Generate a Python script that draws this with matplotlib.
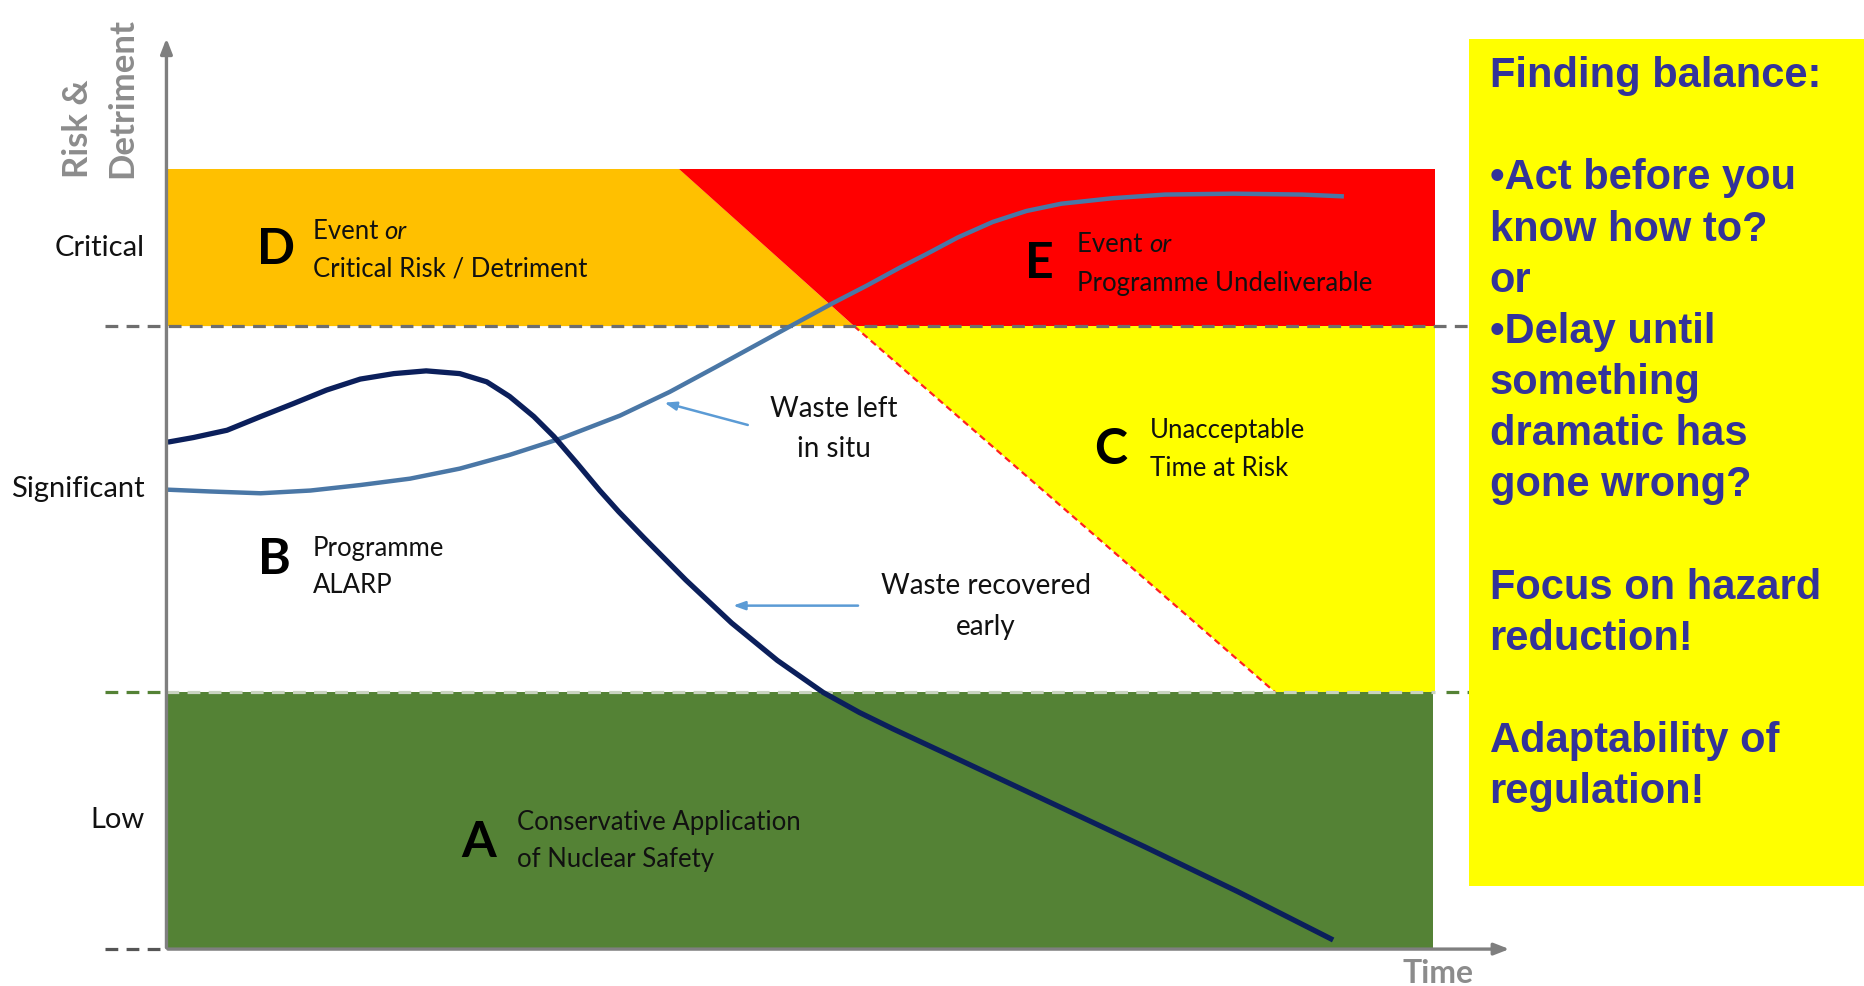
import matplotlib
matplotlib.use("Agg")
import matplotlib.pyplot as plt
from matplotlib.patches import Polygon, Rectangle

# ---------------- data (abstract units: time 0-100, risk 0-100) ----------------
level_names = ["Low", "Significant", "Critical"]
level_label_y = [14.1, 50.4, 76.8]
low_top = 28.1          # Low / Significant boundary
sig_top = 68.2          # Significant / Critical boundary
zone_top = 85.4
zone_right = 94.3
orange_red_split = [38.1, 51.1]   # x at zone_top, x at sig_top
yellow_split_bottom = 82.4        # x of C zone edge at low_top

recovered_x = [0.1, 2.0, 4.5, 7.0, 9.4, 11.9, 14.4, 16.9, 19.3, 21.8, 23.8, 25.5,
               27.3, 28.8, 30.5, 32.2, 33.6, 35.5, 38.6, 42.0, 45.4, 48.8, 51.5,
               54.0, 59.1, 65.9, 72.7, 79.6, 86.7]
recovered_y = [55.5, 56.0, 56.8, 58.3, 59.7, 61.2, 62.4, 63.0, 63.3, 63.0, 62.1, 60.5,
               58.3, 56.1, 53.2, 50.2, 47.9, 45.0, 40.4, 35.7, 31.6, 28.1, 25.9,
               24.1, 20.6, 15.9, 11.2, 6.3, 1.0]

insitu_x = [0.0, 3.2, 7.0, 10.7, 14.4, 18.1, 21.8, 25.5, 29.3, 33.7, 37.4, 40.8,
            43.9, 46.5, 49.5, 52.0, 54.5, 56.5, 58.8, 61.4, 63.9, 66.5, 70.3,
            74.2, 79.3, 84.4, 87.5]
insitu_y = [50.3, 50.1, 49.9, 50.2, 50.8, 51.5, 52.6, 54.1, 55.9, 58.4, 61.0, 63.7,
            66.2, 68.3, 70.7, 72.6, 74.6, 76.1, 77.9, 79.6, 80.8, 81.6, 82.2,
            82.6, 82.7, 82.6, 82.4]

zone_letters = ["D", "E", "C", "B", "A"]
zone_line1 = ["Event or", "Event or", "Unacceptable", "Programme", "Conservative Application"]
zone_line2 = ["Critical Risk / Detriment", "Programme Undeliverable", "Time at Risk",
              "ALARP", "of Nuclear Safety"]

box_lines = ["Finding balance:", "", "\u2022Act before you", "know how to?", "or",
             "\u2022Delay until", "something", "dramatic has", "gone wrong?", "",
             "Focus on hazard", "reduction!", "", "Adaptability of", "regulation!"]

# ---------------- figure ----------------
W, H = 1864, 986
fig = plt.figure(figsize=(W / 100, H / 100), dpi=100)
ax = fig.add_axes([0, 0, 1, 1])
ax.set_xlim(-12.37, 126.15)
ax.set_ylim(-4.04, 103.9)
ax.axis("off")

ORANGE = "#FFC000"
RED = "#FF0000"
YELLOW = "#FFFF00"
GREEN = "#548235"
NAVY = "#0B1F5B"
STEEL = "#4A77A6"
ARROWC = "#5B9BD5"
GREY = "#7F7F7F"
SANS = ["Lato", "DejaVu Sans"]
TXT = 18.5

# zones
ax.add_patch(Rectangle((0, 0), zone_right - 0.15, low_top, color=GREEN, lw=0, zorder=1))
ax.add_patch(Polygon([(0, zone_top), (orange_red_split[0], zone_top),
                      (orange_red_split[1], sig_top), (0, sig_top)],
                     closed=True, color=ORANGE, lw=0, zorder=1))
ax.add_patch(Polygon([(orange_red_split[0], zone_top), (zone_right, zone_top),
                      (zone_right, sig_top), (orange_red_split[1], sig_top)],
                     closed=True, color=RED, lw=0, zorder=1))
ax.add_patch(Polygon([(orange_red_split[1], sig_top), (zone_right, sig_top),
                      (zone_right, low_top), (yellow_split_bottom, low_top)],
                     closed=True, color=YELLOW, lw=0, zorder=1))
ax.plot([orange_red_split[1], yellow_split_bottom], [sig_top, low_top],
        color="#FF2020", lw=1.6, ls=(0, (3, 2)), zorder=2)

# dashed level lines
dash = (0, (4, 2.6))
ax.plot([-4.6, 97.5], [sig_top, sig_top], color="#6E6E6E", lw=2.3, ls=dash, zorder=3,
        clip_on=False)
ax.plot([-4.6, 0], [low_top, low_top], color=GREEN, lw=2.3, ls=dash, zorder=3)
ax.plot([0, zone_right], [low_top, low_top], color="#C9D3C0", lw=2.3, ls=dash, zorder=3)
ax.plot([zone_right + 0.8, 97.5], [low_top, low_top], color=GREEN, lw=2.3, ls=dash, zorder=3)
ax.plot([-4.6, 0], [0, 0], color="#555555", lw=2.3, ls=dash, zorder=3)

# axes arrows
ax.annotate("", xy=(0, 100), xytext=(0, -0.15),
            arrowprops=dict(arrowstyle="-|>,head_length=0.9,head_width=0.35",
                            color=GREY, lw=2.4), zorder=6)
ax.annotate("", xy=(100, 0), xytext=(-0.1, 0),
            arrowprops=dict(arrowstyle="-|>,head_length=0.9,head_width=0.35",
                            color=GREY, lw=2.4), zorder=6)

# curves
ax.plot(insitu_x, insitu_y, color=STEEL, lw=3.2, solid_capstyle="butt",
        solid_joinstyle="round", zorder=5)
ax.plot(recovered_x, recovered_y, color=NAVY, lw=3.8, solid_capstyle="butt",
        solid_joinstyle="round", zorder=5)

# annotation arrows
ax.annotate("", xy=(36.8, 59.9), xytext=(43.4, 57.3),
            arrowprops=dict(arrowstyle="-|>,head_length=0.7,head_width=0.25",
                            color=ARROWC, lw=1.8), zorder=6)
ax.annotate("", xy=(41.9, 37.6), xytext=(51.6, 37.6),
            arrowprops=dict(arrowstyle="-|>,head_length=0.7,head_width=0.25",
                            color=ARROWC, lw=1.8), zorder=6)
for s, xx, yy in [("Waste left", 49.6, 59.1), ("in situ", 49.6, 54.7),
                  ("Waste recovered", 60.9, 39.7), ("early", 60.9, 35.3)]:
    ax.text(xx, yy, s, ha="center", va="center", fontsize=20, family=SANS,
            color="#111111", zorder=7)

# axis labels
for name, yy in zip(level_names, level_label_y):
    ax.text(-1.6, yy, name, ha="right", va="center", fontsize=21, family=SANS,
            color="#111111")
ax.text(-6.6, 84.4, "Risk &", rotation=90, ha="center", va="bottom", fontsize=25,
        family=SANS, fontweight="bold", color="#8C8C8C")
ax.text(-3.3, 84.4, "Detriment", rotation=90, ha="center", va="bottom", fontsize=25,
        family=SANS, fontweight="bold", color="#8C8C8C")
ax.text(94.5, -2.7, "Time", ha="center", va="center", fontsize=23, family=SANS,
        fontweight="bold", color="#8C8C8C")

# zone labels
letter_pos = [(8.13, 76.6), (64.9, 75.0), (70.2, 54.7), (8.04, 42.7), (23.2, 11.7)]
text_pos = [(10.87, 78.6, 74.5), (67.7, 77.1, 72.9), (73.1, 56.8, 52.6),
            (10.87, 43.9, 39.8), (26.06, 13.9, 9.8)]
fig.canvas.draw()
for L, (lx, ly), l1, l2, (tx, ty1, ty2) in zip(zone_letters, letter_pos, zone_line1,
                                               zone_line2, text_pos):
    ax.text(lx, ly, L, ha="center", va="center", fontsize=36, fontweight="bold",
            family=SANS, color="black", zorder=7)
    if l1.endswith(" or"):
        t = ax.text(tx, ty1, l1[:-3] + " ", ha="left", va="center", fontsize=TXT,
                    family=SANS, color="#111111", zorder=7)
        bb = t.get_window_extent(renderer=fig.canvas.get_renderer())
        x_end = ax.transData.inverted().transform((bb.x1, bb.y0))[0]
        ax.text(x_end, ty1, "or", ha="left", va="center", fontsize=TXT,
                family=SANS, style="italic", color="#111111", zorder=7)
    else:
        ax.text(tx, ty1, l1, ha="left", va="center", fontsize=TXT, family=SANS,
                color="#111111", zorder=7)
    ax.text(tx, ty2, l2, ha="left", va="center", fontsize=TXT, family=SANS,
            color="#111111", zorder=7)

# right yellow box
fig.patches.append(Rectangle((1236 / 1568, 1 - 745 / 829), 1 - 1236 / 1568,
                             (745 - 33) / 829, transform=fig.transFigure,
                             color=YELLOW, lw=0, zorder=8))
y0 = 64
step = 43.0
for i, line in enumerate(box_lines):
    if not line:
        continue
    yy = 1 - (y0 + i * step) / 829
    fig.text(1253 / 1568, yy, line, ha="left", va="center", fontsize=30,
             fontweight="bold", family=["Liberation Sans", "DejaVu Sans"],
             color="#333399", zorder=9)

fig.savefig("out.png", dpi=100)
